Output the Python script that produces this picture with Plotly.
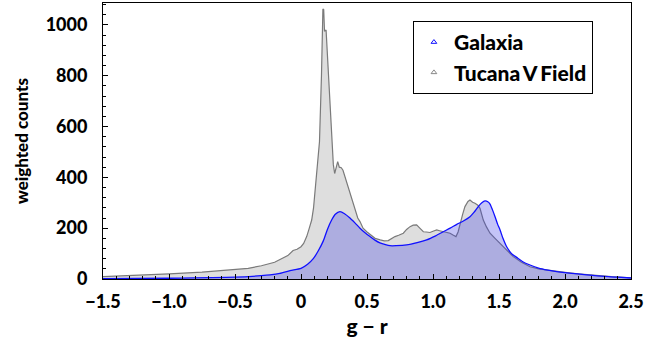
import plotly.graph_objects as go

# Tucana V field (gray) weighted counts vs g-r
field_x = [-1.5, -1.25, -1.0, -0.75, -0.5, -0.4, -0.3, -0.2, -0.1, -0.06, -0.03, 0.0, 0.02, 0.043,
           0.06, 0.081, 0.095, 0.106, 0.12, 0.14, 0.155, 0.166, 0.172, 0.178, 0.19, 0.215, 0.237,
           0.245, 0.255, 0.27, 0.278, 0.29, 0.305, 0.318, 0.333, 0.35, 0.371, 0.39, 0.409, 0.43,
           0.447, 0.47, 0.498, 0.53, 0.561, 0.6, 0.63, 0.661, 0.69, 0.712, 0.74, 0.775, 0.8, 0.826,
           0.85, 0.876, 0.9, 0.927, 0.95, 0.977, 1.0, 1.028, 1.05, 1.078, 1.1, 1.129, 1.155, 1.174,
           1.19, 1.205, 1.225, 1.242, 1.265, 1.28, 1.3, 1.318, 1.34, 1.356, 1.37, 1.381, 1.405,
           1.432, 1.47, 1.508, 1.55, 1.608, 1.67, 1.735, 1.8, 1.85, 1.937, 2.0, 2.1, 2.24, 2.35, 2.5]
field_y = [9, 14, 20, 27, 36, 42, 52, 66, 92, 112, 117, 127, 140, 167,
           195, 232, 280, 350, 420, 540, 800, 1062, 1060, 975, 980, 740, 540,
           450, 415, 450, 462, 440, 438, 428, 403, 370, 337, 300, 272, 240,
           226, 200, 186, 172, 160, 154, 150, 151, 160, 167, 172, 180, 195, 206,
           212, 213, 200, 186, 185, 183, 188, 193, 190, 186, 182, 180, 172, 167,
           185, 219, 255, 285, 305, 311, 302, 298, 290, 278, 255, 232, 205,
           180, 160, 140, 115, 88, 66, 48, 40, 36, 31, 26, 20, 13, 9, 5]

# Galaxia model (blue)
gal_x = [-1.5, -1.0, -0.5, -0.3, -0.235, -0.16, -0.083, 0.0, 0.05, 0.093, 0.13, 0.169, 0.2, 0.232,
         0.26, 0.295, 0.33, 0.371, 0.41, 0.447, 0.485, 0.523, 0.56, 0.598, 0.64, 0.674, 0.72, 0.8,
         0.88, 0.952, 1.02, 1.078, 1.13, 1.18, 1.23, 1.28, 1.31, 1.343, 1.37, 1.394, 1.415, 1.432,
         1.45, 1.47, 1.49, 1.508, 1.53, 1.558, 1.595, 1.634, 1.68, 1.735, 1.8, 1.87, 1.937, 2.0,
         2.1, 2.19, 2.3, 2.4, 2.5]
gal_y = [1.5, 3, 7, 13, 16, 22, 33, 42, 58, 80, 110, 150, 195, 232,
         255, 265, 257, 240, 220, 200, 182, 167, 153, 142, 135, 131, 131, 134,
         143, 154, 170, 186, 200, 215, 228, 245, 262, 285, 300, 307, 304, 295,
         273, 245, 215, 193, 160, 127, 100, 85, 68, 55, 43, 35, 29, 25,
         20, 15, 10, 7, 4]

x_ticks = [-1.5, -1.0, -0.5, 0, 0.5, 1.0, 1.5, 2.0, 2.5]
x_ticktext = ["\u22121.5", "\u22121.0", "\u22120.5", "0", "0.5", "1.0", "1.5", "2.0", "2.5"]
y_ticks = [0, 200, 400, 600, 800, 1000]

FONT = "Lato"
W = 900

fig = go.Figure()
fig.add_trace(go.Scatter(x=field_x, y=field_y, mode="lines", fill="tozeroy",
                         line=dict(color="#7a7a7a", width=1.2),
                         fillcolor="rgba(222,222,222,1)", showlegend=False))
fig.add_trace(go.Scatter(x=gal_x, y=gal_y, mode="lines", fill="tozeroy",
                         line=dict(color="#1010ff", width=1.3, shape="spline", smoothing=0.6),
                         fillcolor="rgba(60,60,230,0.30)", showlegend=False))
# legend entries
fig.add_trace(go.Scatter(x=[None], y=[None], mode="markers", name="Galaxia",
                         marker=dict(symbol="triangle-up-open", size=5, color="#1010ff",
                                     line=dict(width=1, color="#1010ff"))))
fig.add_trace(go.Scatter(x=[None], y=[None], mode="markers", name="Tucana\u2009V\u2009Field",
                         marker=dict(symbol="triangle-up-open", size=5, color="#888888",
                                     line=dict(width=1, color="#888888"))))

fig.update_layout(
    width=661, height=339,
    margin=dict(l=103, r=30, t=3, b=60),
    paper_bgcolor="white", plot_bgcolor="white",
    font=dict(family=FONT, color="black", size=18, weight=W),
    legend=dict(x=0.587, y=0.935, xanchor="left", yanchor="top",
                bordercolor="black", borderwidth=1, bgcolor="white",
                font=dict(family=FONT, size=21, color="black", weight=W),
                itemwidth=30, tracegroupgap=0),
)
fig.update_xaxes(range=[-1.5, 2.5], tickvals=x_ticks, ticktext=x_ticktext,
                 ticks="inside", ticklen=5, tickwidth=1, tickcolor="black",
                 minor=dict(dtick=0.1, ticks="inside", ticklen=3, tickcolor="black"),
                 showline=True, linecolor="black", linewidth=1, mirror=True,
                 showgrid=False, zeroline=False, ticklabelstandoff=6,
                 tickfont=dict(family=FONT, size=18, weight=W),
                 title=dict(text="g \u2212 r", font=dict(family=FONT, size=21, weight=W), standoff=8))
fig.update_yaxes(range=[0, 1086], tickvals=y_ticks,
                 ticks="inside", ticklen=5, tickwidth=1, tickcolor="black",
                 minor=dict(dtick=40, ticks="inside", ticklen=3, tickcolor="black"),
                 showline=True, linecolor="black", linewidth=1, mirror=True,
                 showgrid=False, zeroline=False, ticklabelstandoff=11,
                 tickfont=dict(family=FONT, size=18, weight=W),
                 title=dict(text="weighted counts", font=dict(family=FONT, size=17, weight=W), standoff=12))

fig.write_html("out.html")
